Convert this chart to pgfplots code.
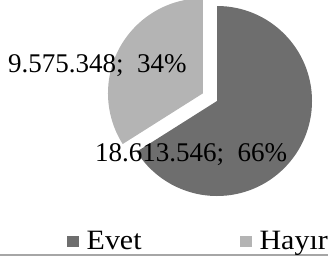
\documentclass[border=0pt]{standalone}
\usepackage{pgfplots}
\pgfplotsset{compat=1.18}
\usetikzlibrary{calc}
\usepackage{fontspec}
\setmainfont{Liberation Serif}
\newfontfamily\legfont[FakeStretch=1.07]{Liberation Serif}
\definecolor{evet}{RGB}{110,110,110}
\definecolor{hayir}{RGB}{180,180,180}
\begin{document}
\begin{tikzpicture}
% data values
\def\va{18613546}% Evet
\def\vb{9575348}% Hayir
\edef\angA{\fpeval{360*\va/(\va+\vb)}}
\edef\angB{\fpeval{360*\vb/(\va+\vb)}}
\edef\endA{\fpeval{90-\angA}}
\edef\endB{\fpeval{90+\angB}}
\edef\midB{\fpeval{90+\angB/2}}
\begin{axis}[
  hide axis, scale only axis, width=328pt, height=258pt,
  xmin=0, xmax=328, ymin=0, ymax=258, clip=false,
  legend columns=2,
  legend cell align=left,
  legend image code/.code={\fill[#1] (0pt,2.5pt) rectangle (12pt,14pt);},
  legend style={draw=none, fill=none, inner sep=0pt, outer sep=0pt,
    at={(axis cs:66.7,6.6)}, anchor=south west,
    font=\legfont\fontsize{28}{32}\selectfont,
    cells={anchor=base west},
    nodes={inner sep=0pt, outer sep=0pt},
    /tikz/every odd column/.append style={column sep=8pt},
    /tikz/every even column/.append style={column sep=98pt}},
]
\addlegendimage{fill=evet, draw=none}
\addlegendentry{Evet}
\addlegendimage{fill=hayir, draw=none}
\addlegendentry{Hayır}
% Evet slice
\fill[evet] (axis cs:217,157) -- ++(90:95pt) arc[start angle=90, end angle=\endA, radius=95pt] -- cycle;
% Hayir slice (exploded)
\fill[hayir] ($(axis cs:217,157)+(\midB:16pt)$) -- ++(90:95pt) arc[start angle=90, end angle=\endB, radius=95pt] -- cycle;
% data labels
\node[anchor=base west, inner sep=0pt, font=\fontsize{27}{32}\selectfont] at (axis cs:8,186) {9.575.348;\ \ 34\%};
\node[anchor=base west, inner sep=0pt, font=\fontsize{27}{32}\selectfont] at (axis cs:95,97) {18.613.546;\ \ 66\%};
% frame line at bottom
\draw[color=black!35, line width=1.5pt] (axis cs:0,3) -- (axis cs:328,3);
\end{axis}
\pgfresetboundingbox
\useasboundingbox (0,0) rectangle (328pt,258pt);
\end{tikzpicture}
\end{document}
